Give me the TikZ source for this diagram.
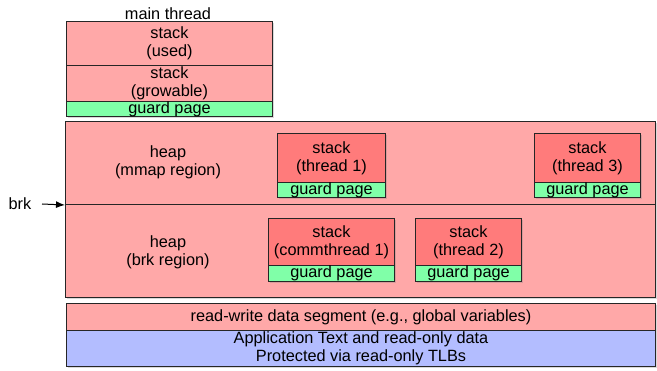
\documentclass[tikz,border=0pt]{standalone}
\usepackage{fontspec}
\setmainfont{Liberation Sans}
\usetikzlibrary{shadows,arrows.meta}
\definecolor{heapc}{HTML}{FFA8A8}
\definecolor{stackc}{HTML}{FF7B7B}
\definecolor{guardc}{HTML}{80FFA8}
\definecolor{textc}{HTML}{B3BDFF}
\tikzset{
  region/.style={draw=black!85, line width=1pt, inner sep=0pt, anchor=north west,
    align=center, font=\fontsize{16.3}{18}\selectfont},
  shadowed/.style={drop shadow={opacity=0.3, shadow xshift=1.5pt, shadow yshift=-1.5pt}},
  lbl/.style={align=center, inner sep=0pt, font=\fontsize{16.3}{18}\selectfont}
}
\begin{document}
\begin{tikzpicture}[x=1pt,y=-1pt]
\useasboundingbox (0,0) rectangle (657,371);
% main thread
\node[lbl] (mt) at (168,14) {main thread};
\node[region, shadowed, fill=heapc, minimum width=206pt, minimum height=44pt] (used) at (66,21) {stack\\(used)};
\node[region, shadowed, fill=heapc, minimum width=206pt, minimum height=36pt] (grow) at (66,65) {stack\\(growable)};
\node[region, shadowed, fill=guardc, minimum width=206pt, minimum height=15pt] (mg) at (66,101) {guard page};
% heap
\node[region, shadowed, fill=heapc, minimum width=590pt, minimum height=83pt] (mmap) at (65,121) {};
\node[region, shadowed, fill=heapc, minimum width=590pt, minimum height=93pt] (brkr) at (65,204) {};
\node[lbl] (mmaptxt) at (168,162) {heap\\(mmap region)};
\node[lbl] (brktxt) at (168,252) {heap\\(brk region)};
% thread 1
\node[region, shadowed, fill=stackc, minimum width=108pt, minimum height=49pt] (t1) at (277,133) {stack\\(thread 1)};
\node[region, shadowed, fill=guardc, minimum width=108pt, minimum height=13pt] (t1g) at (277,182) {guard page};
% thread 3
\node[region, shadowed, fill=stackc, minimum width=106pt, minimum height=49pt] (t3) at (534,133) {stack\\(thread 3)};
\node[region, shadowed, fill=guardc, minimum width=106pt, minimum height=13pt] (t3g) at (534,182) {guard page};
% commthread 1
\node[region, shadowed, fill=stackc, minimum width=126pt, minimum height=47pt] (c1) at (268,218) {stack\\(commthread 1)};
\node[region, shadowed, fill=guardc, minimum width=126pt, minimum height=16pt] (c1g) at (268,265) {guard page};
% thread 2
\node[region, shadowed, fill=stackc, minimum width=106pt, minimum height=47pt] (t2) at (415,218) {stack\\(thread 2)};
\node[region, shadowed, fill=guardc, minimum width=106pt, minimum height=16pt] (t2g) at (415,265) {guard page};
% data / text
\node[region, shadowed, fill=heapc, minimum width=589pt, minimum height=27pt] (data) at (66,303) {read-write data segment (e.g., global variables)};
\node[region, shadowed, fill=textc, minimum width=589pt, minimum height=36pt] (text) at (66,330) {Application Text and read-only data\\Protected via read-only TLBs};
% brk
\node[lbl] (brk) at (20,204) {brk};
\coordinate (brkS) at (42,204);
\draw[line width=1pt, -{Latex[length=9pt,width=7pt]}] (brkS) -- (mmap.south west);
\end{tikzpicture}
\end{document}
